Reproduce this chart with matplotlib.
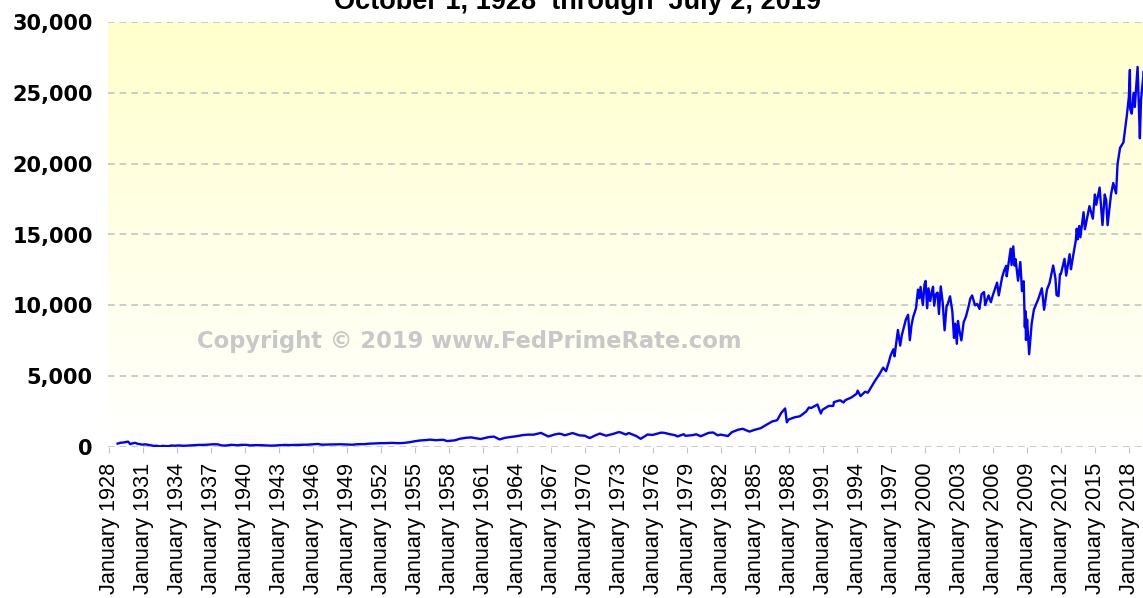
import numpy as np
import matplotlib
matplotlib.use("Agg")
from matplotlib import pyplot as plt

# decimal year, Dow Jones Industrial Average close
years = [
    1928.75, 1929.0, 1929.3, 1929.67, 1929.83, 1929.87, 1930.0, 1930.3, 1930.5, 1930.8,
    1930.95, 1931.2, 1931.5, 1931.8, 1931.95, 1932.2, 1932.5, 1932.7, 1933.0, 1933.2,
    1933.55, 1933.8, 1934.1, 1934.6, 1935.0, 1935.5, 1935.9, 1936.4, 1936.9, 1937.2,
    1937.6, 1937.9, 1938.25, 1938.8, 1939.3, 1939.7, 1940.1, 1940.45, 1940.9, 1941.5,
    1941.95, 1942.3, 1942.9, 1943.5, 1943.9, 1944.5, 1944.95, 1945.5, 1945.95, 1946.4,
    1946.8, 1947.3, 1947.9, 1948.45, 1948.9, 1949.45, 1949.95, 1950.5, 1950.95, 1951.5,
    1951.95, 1952.5, 1952.95, 1953.5, 1953.9, 1954.5, 1954.95, 1955.5, 1955.95, 1956.3,
    1956.8, 1957.5, 1957.8, 1958.5, 1958.95, 1959.5, 1959.95, 1960.4, 1960.8, 1961.5,
    1961.95, 1962.45, 1962.95, 1963.5, 1963.95, 1964.5, 1964.95, 1965.45, 1965.95, 1966.1,
    1966.75, 1967.3, 1967.7, 1967.95, 1968.2, 1968.9, 1969.5, 1969.95, 1970.4, 1970.95,
    1971.3, 1971.85, 1972.5, 1972.9, 1973.05, 1973.6, 1973.85, 1974.5, 1974.9, 1975.5,
    1975.95, 1976.7, 1976.95, 1977.5, 1977.95, 1978.15, 1978.7, 1978.85, 1979.5, 1979.8,
    1980.2, 1980.9, 1981.3, 1981.7, 1981.95, 1982.6, 1982.95, 1983.5, 1983.9, 1984.5,
    1984.95, 1985.5, 1985.95, 1986.5, 1986.95, 1987.3, 1987.65, 1987.8, 1987.95, 1988.5,
    1988.95, 1989.5, 1989.75, 1989.95, 1990.5, 1990.8, 1990.95, 1991.5, 1991.9, 1991.95,
    1992.5, 1992.8, 1992.95, 1993.5, 1993.95, 1994.05, 1994.3, 1994.7, 1994.95, 1995.3,
    1995.6, 1995.95, 1996.3, 1996.55, 1996.8, 1996.95, 1997.2, 1997.3, 1997.6, 1997.8,
    1997.95, 1998.3, 1998.5, 1998.65, 1998.8, 1998.95, 1999.2, 1999.37, 1999.5, 1999.6,
    1999.8, 1999.95, 2000.04, 2000.18, 2000.3, 2000.45, 2000.6, 2000.7, 2000.8, 2000.95,
    2001.1, 2001.22, 2001.38, 2001.55, 2001.72, 2001.9, 2001.97, 2002.2, 2002.4, 2002.55,
    2002.65, 2002.8, 2002.9, 2003.0, 2003.2, 2003.4, 2003.6, 2003.8, 2003.98, 2004.15,
    2004.4, 2004.6, 2004.8, 2004.98, 2005.2, 2005.3, 2005.6, 2005.8, 2005.98, 2006.35,
    2006.5, 2006.8, 2006.98, 2007.15, 2007.2, 2007.55, 2007.63, 2007.78, 2007.9, 2007.98,
    2008.2, 2008.4, 2008.55, 2008.7, 2008.8, 2008.85, 2008.9, 2009.0, 2009.18, 2009.4,
    2009.6, 2009.98, 2010.3, 2010.5, 2010.75, 2010.98, 2011.3, 2011.5, 2011.6, 2011.77,
    2011.9, 2011.98, 2012.3, 2012.45, 2012.75, 2012.87, 2012.98, 2013.3, 2013.38, 2013.47,
    2013.6, 2013.7, 2013.98, 2014.1, 2014.5, 2014.8, 2014.98, 2015.1, 2015.4, 2015.65,
    2015.85, 2015.98, 2016.1, 2016.4, 2016.6, 2016.85, 2016.98, 2017.2, 2017.5, 2017.8,
    2017.98, 2018.07, 2018.1, 2018.23, 2018.4, 2018.5, 2018.75, 2018.95, 2019.05, 2019.3,
    2019.4, 2019.43, 2019.5,
]
dow = [
    240, 300, 320, 381, 230, 199, 245, 294, 230, 185,
    165, 190, 145, 100, 78, 85, 41, 79, 60, 55,
    108, 88, 110, 85, 104, 120, 145, 150, 180, 194,
    187, 115, 99, 155, 121, 155, 150, 112, 130, 125,
    106, 93, 119, 145, 135, 148, 152, 165, 192, 212,
    163, 175, 181, 193, 177, 161, 200, 200, 235, 255,
    269, 275, 291, 270, 280, 335, 404, 465, 488, 521,
    480, 510, 420, 470, 583, 650, 679, 610, 566, 700,
    734, 535, 652, 710, 762, 840, 874, 870, 969, 995,
    744, 880, 943, 905, 825, 985, 820, 800, 631, 838,
    950, 797, 930, 1036, 1051, 880, 987, 780, 577, 880,
    852, 1014, 1004, 900, 830, 742, 900, 790, 840, 897,
    759, 1000, 1024, 824, 875, 777, 1046, 1220, 1287, 1086,
    1211, 1330, 1546, 1800, 1895, 2400, 2722, 1738, 1938, 2100,
    2168, 2500, 2791, 2753, 2999, 2365, 2633, 2900, 2900, 3168,
    3300, 3140, 3301, 3500, 3754, 3978, 3593, 3900, 3834, 4300,
    4700, 5117, 5600, 5350, 6000, 6448, 6900, 6400, 8259, 7161,
    7908, 9000, 9337, 7539, 8600, 9181, 9800, 11107, 10500, 11300,
    10019, 11497, 11722, 9796, 11200, 10300, 11000, 11310, 9975, 10787,
    10900, 9389, 11337, 10200, 8235, 10000, 10021, 10635, 9600, 7702,
    8700, 7286, 8900, 8341, 7524, 8800, 9200, 9800, 10453, 10700,
    10000, 10100, 9749, 10783, 10940, 10012, 10700, 10216, 10718, 11600,
    10700, 12000, 12463, 12786, 12050, 14000, 12845, 14164, 12800, 13265,
    11740, 13058, 11000, 11700, 8451, 9600, 7552, 9000, 6547, 8700,
    9700, 10428, 11205, 9686, 11100, 11577, 12810, 11900, 10720, 10655,
    12200, 12217, 13279, 12101, 13610, 12542, 13104, 14600, 15409, 14660,
    15600, 14800, 16576, 15372, 17000, 16117, 17823, 17100, 18312, 15666,
    17823, 17425, 15660, 17800, 18636, 17900, 19963, 21115, 21500, 23400,
    24719, 26616, 23860, 23533, 25000, 24000, 26828, 21792, 24500, 26543,
    25000, 24815, 26786,
]
tick_years = list(range(1928, 2019, 3))
tick_labels = ["January %d" % y for y in tick_years]
y_ticks = [0, 5000, 10000, 15000, 20000, 25000, 30000]

fig = plt.figure(figsize=(11.43, 5.98), dpi=100)
x0, x1 = 1927.9, 2019.6
ax = fig.add_axes([108 / 1143, 151 / 598, (x1 - x0) * 11.333 / 1143, 425 / 598])

# yellow-to-white background gradient
grad = np.linspace(1, 0, 256).reshape(-1, 1)
top = np.array([255, 255, 204]) / 255.0
img = np.ones((256, 1, 3)) * (1 - grad[..., None]) + top * grad[..., None]
ax.imshow(img, extent=[0, 1, 0, 1], transform=ax.transAxes, aspect="auto", zorder=0)

for yv in y_ticks:
    ax.axhline(yv, color="#c4c4c4", lw=1.2, ls=(0, (4, 3)), zorder=1)

ax.plot(years, dow, color="#0000ff", lw=1.7, zorder=3)

ax.set_xlim(x0, x1)
ax.set_ylim(0, 30000)
for s in ax.spines.values():
    s.set_visible(False)

ax.set_yticks(y_ticks)
ax.set_yticklabels(["{:,}".format(v) for v in y_ticks], fontsize=15, fontweight="bold",
                   family="DejaVu Sans")
ax.tick_params(axis="y", length=0, pad=11)
ax.set_xticks(tick_years)
ax.set_xticklabels(tick_labels, rotation=90, fontsize=15.6, family="Liberation Sans")
ax.tick_params(axis="x", length=4.5, color="#c4c4c4", pad=7)

ax.text(197 / 1143, 1 - 342 / 598, "Copyright \u00a9 2019 www.FedPrimeRate.com",
        transform=fig.transFigure, fontsize=16.3, fontweight="bold", color="#c8c8c8",
        ha="left", va="center", family="DejaVu Sans", zorder=2)

fig.text(578 / 1143, 1 - 9 / 598, "October 1, 1928  through  July 2, 2019",
         ha="center", va="baseline", fontsize=19.5, fontweight="bold", family="Liberation Sans")

fig.savefig("out.png", dpi=100)
